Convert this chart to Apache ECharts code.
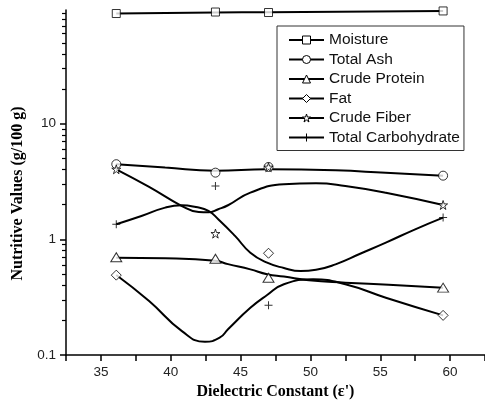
<!DOCTYPE html>
<html>
<head>
<meta charset="utf-8">
<script src="https://cdn.jsdelivr.net/npm/echarts@6.0.0/dist/echarts.min.js"></script>
<style>
  html, body { margin: 0; padding: 0; background: #fff; }
  #chart1 { width: 485px; height: 405px; }
</style>
</head>
<body>
<div id="chart1"></div>
<script>
// measured points
var xPoints = [36.1, 43.2, 47.0, 59.5];
var moisture = [89.5, 92.2, 91.3, 94.2];
var totalAsh = [4.46, 3.77, 4.22, 3.55];
var crudeProtein = [0.70, 0.68, 0.466, 0.382];
var fat = [0.49, null, 0.758, 0.22];
var crudeFiber = [4.03, 1.12, 4.2, 1.98];
var totalCarb = [1.35, 2.89, 0.269, 1.54];

// fitted curves
var moistureCurveX = [36.1, 43.2, 47.0, 59.5];
var moistureCurve = [89.5, 91.5, 92.0, 94.2];
var ashCurveX = [36.1, 39.6, 43.2, 46.9, 51.8, 55.4, 59.5];
var ashCurve = [4.46, 4.17, 3.92, 4.03, 3.95, 3.76, 3.55];
var proteinCurveX = [36.1, 39.6, 43.2, 44.1, 45.7, 46.9, 48.1, 49.9, 52.5, 55.6, 59.5];
var proteinCurve = [0.694, 0.686, 0.652, 0.61, 0.55, 0.499, 0.476, 0.442, 0.422, 0.405, 0.382];
var fatCurveX = [36.1, 38.45, 40.8, 42.45, 43.5, 44.1, 45.7, 46.9, 48.1, 50.2, 52.5, 55.4, 59.5];
var fatCurve = [0.492, 0.293, 0.161, 0.130, 0.141, 0.167, 0.256, 0.33, 0.409, 0.451, 0.409, 0.313, 0.22];
var fiberCurveX = [36.1, 38.45, 40.8, 42.0, 42.7, 43.4, 44.1, 45.7, 48.1, 50.4, 52.5, 55.4, 59.5];
var fiberCurve = [4.03, 2.84, 1.94, 1.72, 1.71, 1.82, 1.97, 2.53, 2.99, 3.05, 2.89, 2.53, 1.98];
var carbCurveX = [36.1, 37.9, 39.6, 40.8, 41.8, 42.7, 43.4, 44.6, 45.7, 46.9, 48.1, 49.3, 50.4, 51.8, 53.6, 55.4, 57.5, 59.5];
var carbCurve = [1.35, 1.59, 1.88, 1.97, 1.90, 1.76, 1.49, 1.07, 0.767, 0.628, 0.565, 0.532, 0.545, 0.608, 0.754, 0.936, 1.22, 1.54];

// axis ticks
var xLabels = [35, 40, 45, 50, 55, 60];
var xTicks = [32.5, 35, 37.5, 40, 42.5, 45, 47.5, 50, 52.5, 55, 57.5, 60, 62.5];
var yMajor = [0.1, 1, 10];
var yMinor = [0.2, 0.3, 0.4, 0.5, 0.6, 0.7, 0.8, 0.9, 2, 3, 4, 5, 6, 7, 8, 9, 20, 30, 40, 50, 60, 70, 80, 90];

var STAR = 'path://M5,0L6.18,3.6L10,3.6L6.9,5.8L8.1,9.5L5,7.2L1.9,9.5L3.1,5.8L0,3.6L3.82,3.6Z';
var PLUS = 'path://M0,3.5H8V4.5H0Z M3.5,0H4.5V8H3.5Z';

var hollow = { color: '#fff', borderColor: '#000', borderWidth: 1 };
var solid = { color: '#000', borderWidth: 0 };

var groups = [
  { name: 'Moisture', pts: moisture, cx: moistureCurveX, cy: moistureCurve, symbol: 'rect', size: 8, style: hollow },
  { name: 'Total Ash', pts: totalAsh, cx: ashCurveX, cy: ashCurve, symbol: 'circle', size: 9, style: hollow },
  { name: 'Crude Protein', pts: crudeProtein, cx: proteinCurveX, cy: proteinCurve, symbol: 'triangle', size: [11, 9], style: hollow },
  { name: 'Fat', pts: fat, cx: fatCurveX, cy: fatCurve, symbol: 'diamond', size: 10, style: hollow },
  { name: 'Crude Fiber', pts: crudeFiber, cx: fiberCurveX, cy: fiberCurve, symbol: STAR, size: 9, style: hollow },
  { name: 'Total Carbohydrate', pts: totalCarb, cx: carbCurveX, cy: carbCurve, symbol: PLUS, size: 8, style: solid }
];

function pairs(xs, ys) {
  var out = [];
  for (var i = 0; i < xs.length; i++) {
    if (ys[i] != null) out.push([xs[i], ys[i]]);
  }
  return out;
}

var series = [];
groups.forEach(function (g) {
  series.push({
    name: g.name, type: 'line', smooth: true, showSymbol: false,
    symbol: g.symbol, symbolSize: g.size, itemStyle: g.style,
    lineStyle: { color: '#000', width: 2 },
    data: pairs(g.cx, g.cy), z: 2, silent: true
  });
});
groups.forEach(function (g) {
  series.push({
    name: g.name, type: 'scatter',
    symbol: g.symbol, symbolSize: g.size, itemStyle: g.style,
    data: pairs(xPoints, g.pts), z: 3, silent: true
  });
});

var myChart = echarts.init(document.getElementById('chart1'));
var option = {
  animation: false,
  backgroundColor: '#fff',
  grid: { left: 66, right: -6, top: 10, bottom: 50 },
  legend: {
    orient: 'vertical', left: 277, top: 26,
    padding: [6, 4, 5, 11],
    borderColor: '#333', borderWidth: 1,
    itemWidth: 35, itemHeight: 10, itemGap: 3.5,
    textStyle: { fontFamily: 'Liberation Sans', fontSize: 15.5, color: '#111', lineHeight: 16 },
    lineStyle: { color: '#000', width: 2 },
    data: groups.map(function (g) {
      return { name: g.name, itemStyle: g.style };
    })
  },
  xAxis: {
    type: 'value', min: 32.5, max: 62.5,
    name: "Dielectric Constant (\u03b5')", nameLocation: 'middle', nameGap: 27,
    nameTextStyle: { fontFamily: 'Liberation Serif', fontWeight: 'bold', fontSize: 16, color: '#000' },
    axisLine: { lineStyle: { color: '#000', width: 1.5 } },
    axisTick: { length: 6, lineStyle: { color: '#000', width: 1.5 }, customValues: xTicks },
    axisLabel: { customValues: xLabels, margin: 10, fontFamily: 'Liberation Sans', fontSize: 13.5, color: '#222' },
    splitLine: { show: false }
  },
  yAxis: [{
    type: 'log', logBase: 10, min: 0.1, max: 96,
    name: 'Nutritive Values (g/100 g)', nameLocation: 'middle', nameGap: 33,
    nameTextStyle: { fontFamily: 'Liberation Serif', fontWeight: 'bold', fontSize: 16, color: '#000', padding: [0, 22, 0, 0] },
    axisLine: { show: true, lineStyle: { color: '#000', width: 1.5 } },
    axisTick: { show: true, length: 6, lineStyle: { color: '#000', width: 1.5 }, customValues: yMajor },
    axisLabel: { customValues: yMajor, margin: 10, fontFamily: 'Liberation Sans', fontSize: 13.5, color: '#222' },
    splitLine: { show: false }
  }, {
    type: 'log', logBase: 10, min: 0.1, max: 96, position: 'left',
    axisLine: { show: false },
    axisTick: { show: true, length: 4, lineStyle: { color: '#000', width: 1.2 }, customValues: yMinor },
    axisLabel: { show: false },
    splitLine: { show: false }
  }],
  series: series
};
myChart.setOption(option);
</script>
</body>
</html>
